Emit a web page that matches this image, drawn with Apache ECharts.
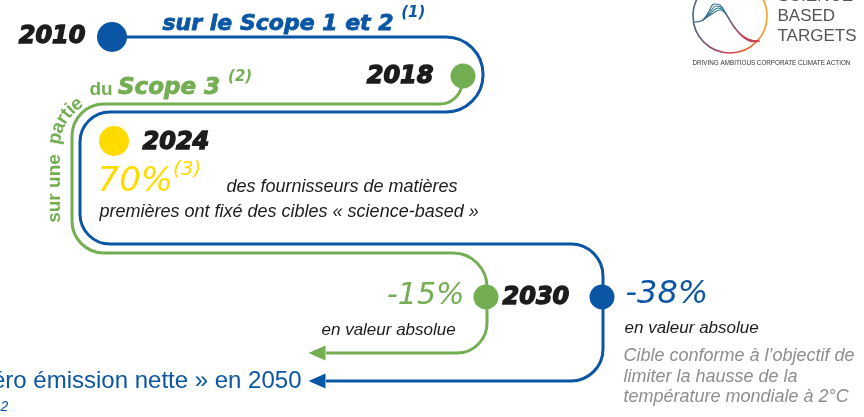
<!DOCTYPE html>
<html>
<head>
<meta charset="utf-8">
<script src="https://cdn.jsdelivr.net/npm/echarts@6/dist/echarts.min.js"></script>
<style>
  html, body { margin: 0; padding: 0; background: #fff; }
  #chart { width: 864px; height: 417px; }
</style>
</head>
<body>
<div id="chart"></div>
<script>
// --- values shown on the timeline ---
const years = ['2010', '2018', '2024', '2030'];
const netZeroYear = '2050';
const scope12Target = '-38%';
const scope3Target = '-15%';
const supplierShare = '70%';
const footnotes = ['(1)', '(2)', '(3)'];

const BLUE = '#0b56a4';
const GREEN = '#74ae53';
const YELLOW = '#ffdb00';
const INK = '#1c1c1c';
const GREY = '#8e8e8e';

// --- layout (pixel space of the hidden axes) ---
// each vertex: [x, y, cornerRadius]
const blueRoute = [[112, 37], [483, 37, 37], [483, 112, 37], [80, 112, 30], [80, 244, 30],
  [603, 244, 32], [603, 381, 32], [326, 381]];
const greenRoute = [[462, 82], [462, 104, 22], [72, 104, 32], [72, 253, 32],
  [487, 253, 34], [487, 353, 30], [326, 353]];
const routes = [{ pts: blueRoute, color: BLUE }, { pts: greenRoute, color: GREEN }];

const dots = [
  { pos: [112, 37], size: 30, color: BLUE },
  { pos: [463, 76], size: 25, color: GREEN },
  { pos: [114, 141], size: 30, color: YELLOW },
  { pos: [486, 297], size: 25, color: GREEN },
  { pos: [602, 297], size: 25, color: BLUE }
];
const arrows = [
  { pos: [317, 353], color: GREEN },
  { pos: [317, 381], color: BLUE }
];

// logo curves
const logoCurves = [
  [[694, 22], [703, 20], [709, 11], [714, 4], [720, 5], [727, 16], [737, 31], [748, 39], [757, 41]],
  [[703, 20], [710, 12], [716, 6], [722, 8], [729, 19], [739, 33], [750, 40], [758, 41]],
  [[703, 20], [711, 13], [718, 8], [724, 11], [731, 22], [741, 35], [752, 41], [759, 41]],
  [[703, 20], [712, 14], [720, 10], [726, 14], [733, 25], [743, 37], [754, 42], [760, 41]]
];

const YEAR = { fontFamily: 'DejaVu Sans', fontStyle: 'italic', fontWeight: 'bold', fontSize: 24, color: INK,
  textBorderColor: INK, textBorderWidth: 1.4 };
const BODY = { fontFamily: 'Liberation Sans', fontStyle: 'italic', fontSize: 18, color: INK };
const THIN = { fontFamily: 'DejaVu Sans', fontStyle: 'italic', fontWeight: 300 };
const LOGO = { fontFamily: 'Liberation Sans', fontSize: 17, color: '#555' };

function note(pos, text, style, align, rotate) {
  return {
    value: pos,
    label: Object.assign({
      show: true, formatter: text, position: [0, 0], opacity: 1,
      align: align || 'left', verticalAlign: 'middle', rotate: rotate || 0
    }, style)
  };
}
function heavy(color, size) {
  return { fontFamily: 'DejaVu Sans', fontStyle: 'italic', fontWeight: 'bold', fontSize: size, color: color,
    textBorderColor: color, textBorderWidth: 0.8, lineHeight: 30, verticalAlign: 'bottom' };
}
function sup(color, size) {
  return { fontFamily: 'DejaVu Sans', fontStyle: 'italic', fontWeight: 'bold', fontSize: size || 15,
    color: color, lineHeight: 30, verticalAlign: 'top', padding: [0, 0, 14, 0] };
}

// "partie" bent around the corner of the green loop
const arcCenter = [108, 148];
const arcR = 53;
const arcLetters = [['p', 170], ['a', 158], ['r', 148], ['t', 140.5], ['i', 134], ['e', 125.5]];
const arcStyle = { fontFamily: 'Liberation Sans', fontWeight: 'bold', fontSize: 19, color: GREEN };

const texts = [
  note([86, 37], years[0], YEAR, 'right'),
  note([434, 77], years[1], YEAR, 'right'),
  note([143, 143], years[2], YEAR, 'left'),
  note([503, 298], years[3], YEAR, 'left'),
  note([163, 21], '{m|sur le Scope 1 et 2 }{s|' + footnotes[0] + '}', {
    rich: { m: heavy(BLUE, 22), s: sup(BLUE) }
  }),
  note([90, 85], '{d|du }{b|Scope 3 }{s|' + footnotes[1] + '}', {
    rich: {
      d: { fontFamily: 'Liberation Sans', fontWeight: 'bold', fontSize: 19, color: GREEN, lineHeight: 30, verticalAlign: 'bottom' },
      b: heavy(GREEN, 23),
      s: sup(GREEN)
    }
  }),
  note([55, 189], 'sur une', arcStyle, 'center', 90),
  note([98, 180], '{p|' + supplierShare + '}{s|' + footnotes[2] + '}', {
    rich: {
      p: Object.assign({ fontSize: 34, color: YELLOW, lineHeight: 40, verticalAlign: 'bottom' }, THIN),
      s: Object.assign({ fontSize: 20, color: YELLOW, lineHeight: 40, verticalAlign: 'top', padding: [0, 0, 14, 0] }, THIN)
    }
  }),
  note([227, 187], 'des fournisseurs de matières', BODY, 'left'),
  note([100, 212], 'premières ont fixé des cibles « science-based »', BODY, 'left'),
  note([465, 297], scope3Target, Object.assign({ fontSize: 30, color: GREEN }, THIN), 'right'),
  note([322, 331], 'en valeur absolue', Object.assign({}, BODY, { fontSize: 17 }), 'left'),
  note([626, 295], scope12Target, Object.assign({ fontSize: 32, color: BLUE }, THIN), 'left'),
  note([625, 329], 'en valeur absolue', Object.assign({}, BODY, { fontSize: 17 }), 'left'),
  note([624, 377], 'Cible conforme à l’objectif de\nlimiter la hausse de la\ntempérature mondiale à 2°C',
    Object.assign({}, BODY, { color: GREY, lineHeight: 20.5 }), 'left'),
  note([302, 382], '« Zéro émission nette » en ' + netZeroYear,
    { fontFamily: 'Liberation Sans', fontSize: 24, color: BLUE }, 'right'),
  note([1, 408], '2', { fontFamily: 'Liberation Sans', fontStyle: 'italic', fontSize: 14, color: BLUE }, 'left'),
  // logo words
  note([778, 0], 'SCIENCE', Object.assign({ offset: [0, -3] }, LOGO), 'left'),
  note([778, 17], 'BASED', LOGO, 'left'),
  note([778, 37], 'TARGETS', LOGO, 'left'),
  note([693, 64], 'DRIVING AMBITIOUS CORPORATE CLIMATE ACTION',
    { fontFamily: 'Liberation Sans', fontSize: 6.3, color: '#333' }, 'left')
];
arcLetters.forEach(function (l) {
  const a = l[1] * Math.PI / 180;
  texts.push(note([arcCenter[0] + arcR * Math.cos(a), arcCenter[1] - arcR * Math.sin(a)],
    l[0], arcStyle, 'center', l[1] - 90));
});

// polyline with rounded corners
function roundedPath(pts) {
  const K = 0.5523;
  let d = 'M' + pts[0][0] + ' ' + pts[0][1];
  for (let i = 1; i < pts.length - 1; i++) {
    const p = pts[i - 1], v = pts[i], n = pts[i + 1], r = v[2] || 0;
    const li = Math.hypot(v[0] - p[0], v[1] - p[1]), lo = Math.hypot(n[0] - v[0], n[1] - v[1]);
    const di = [(v[0] - p[0]) / li, (v[1] - p[1]) / li], dO = [(n[0] - v[0]) / lo, (n[1] - v[1]) / lo];
    const a = [v[0] - di[0] * r, v[1] - di[1] * r], b = [v[0] + dO[0] * r, v[1] + dO[1] * r];
    d += ' L' + a[0] + ' ' + a[1];
    d += ' C' + (a[0] + di[0] * r * K) + ' ' + (a[1] + di[1] * r * K) + ' ' +
      (b[0] - dO[0] * r * K) + ' ' + (b[1] - dO[1] * r * K) + ' ' + b[0] + ' ' + b[1];
  }
  const last = pts[pts.length - 1];
  return d + ' L' + last[0] + ' ' + last[1];
}

const chart = echarts.init(document.getElementById('chart'));
chart.setOption({
  backgroundColor: '#fff',
  animation: false,
  grid: { left: 0, right: 0, top: 0, bottom: 0 },
  xAxis: { type: 'value', min: 0, max: 864, show: false },
  yAxis: { type: 'value', min: 0, max: 417, inverse: true, show: false },
  series: [
    {
      type: 'custom',
      data: routes.map(function (r, i) { return [i, 0]; }),
      z: 2,
      renderItem: function (params, api) {
        const route = routes[params.dataIndex];
        const pts = route.pts.map(function (p) {
          const c = api.coord([p[0], p[1]]);
          return [c[0], c[1], p[2]];
        });
        return {
          type: 'path',
          shape: { pathData: roundedPath(pts) },
          style: { stroke: route.color, lineWidth: 3, fill: 'none' }
        };
      }
    },
    {
      type: 'custom',
      data: [[730, 16]],
      z: 2,
      renderItem: function (params, api) {
        const c = api.coord([api.value(0), api.value(1)]);
        return {
          type: 'circle',
          shape: { cx: c[0], cy: c[1], r: 37 },
          style: {
            fill: 'none', lineWidth: 1.6,
            stroke: new echarts.graphic.LinearGradient(0, 0, 1, 0, [
              { offset: 0, color: '#3f6a86' }, { offset: 0.45, color: '#c9405a' },
              { offset: 0.7, color: '#e8683a' }, { offset: 1, color: '#f6a823' }
            ])
          }
        };
      }
    }
  ].concat(logoCurves.map(function (c) {
    return {
      type: 'line', data: c, smooth: 0.4, symbol: 'none', z: 2,
      lineStyle: {
        width: 1.1,
        color: new echarts.graphic.LinearGradient(0, 0, 1, 0, [
          { offset: 0, color: '#3a5f78' }, { offset: 0.35, color: '#2b7fa0' },
          { offset: 0.7, color: '#d0404f' }, { offset: 1, color: '#c2385a' }
        ])
      }
    };
  })).concat([
    {
      type: 'scatter', z: 4, symbol: 'circle',
      data: dots.map(function (d) {
        return { value: d.pos, symbolSize: d.size, itemStyle: { color: d.color, opacity: 1 } };
      })
    },
    {
      type: 'scatter', z: 4, symbol: 'triangle', symbolRotate: 90,
      data: arrows.map(function (a) {
        return { value: a.pos, symbolSize: [15, 17], itemStyle: { color: a.color, opacity: 1 } };
      })
    },
    {
      type: 'scatter', z: 5, symbolSize: 1, silent: true, clip: false,
      itemStyle: { color: 'rgba(0,0,0,0)', opacity: 1 },
      data: texts
    }
  ])
});
</script>
</body>
</html>
